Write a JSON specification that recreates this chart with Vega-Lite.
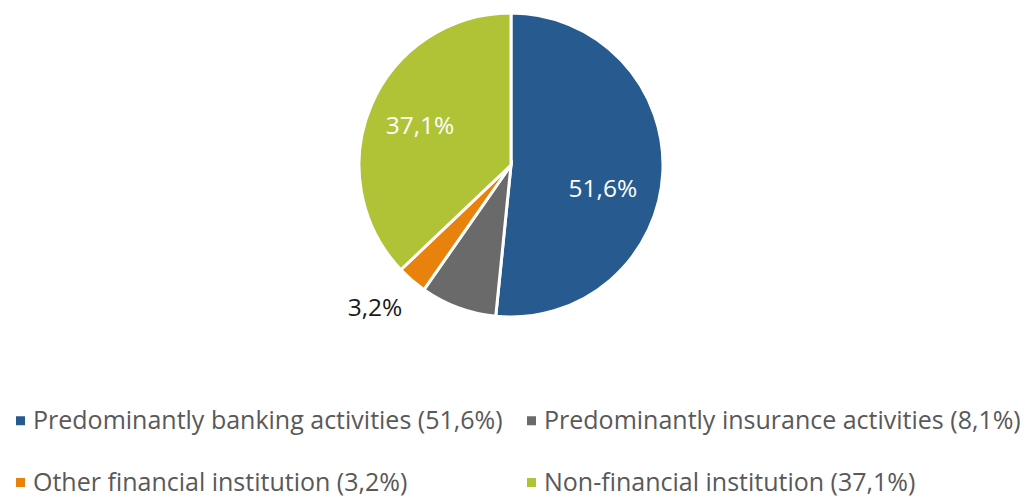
{
  "$schema": "https://vega.github.io/schema/vega-lite/v6.json",
  "width": 1022,
  "height": 330,
  "autosize": "none",
  "padding": {"left": 0, "top": 0, "right": 8, "bottom": 166},
  "background": "white",
  "config": {"view": {"stroke": null}},
  "data": {
    "values": [
      {"cat": "Predominantly banking activities (51,6%)", "key": "bank", "value": 51.6, "pct": "51,6%", "idx": 1},
      {"cat": "Predominantly insurance activities (8,1%)", "key": "ins", "value": 8.1, "pct": "8,1%", "idx": 2},
      {"cat": "Other financial institution (3,2%)", "key": "oth", "value": 3.2, "pct": "3,2%", "idx": 3},
      {"cat": "Non-financial institution (37,1%)", "key": "non", "value": 37.1, "pct": "37,1%", "idx": 4}
    ]
  },
  "encoding": {
    "theta": {"field": "value", "type": "quantitative", "stack": true},
    "order": {"field": "idx", "type": "quantitative"},
    "color": {
      "field": "cat",
      "type": "nominal",
      "sort": null,
      "scale": {
        "domain": ["Predominantly banking activities (51,6%)", "Other financial institution (3,2%)", "Predominantly insurance activities (8,1%)", "Non-financial institution (37,1%)"],
        "range": ["#275B8F", "#E8820C", "#6A6A6A", "#B0C336"]
      },
      "legend": {
        "title": null,
        "orient": "none",
        "legendX": 8,
        "legendY": 408,
        "columns": 2,
        "padding": 0,
        "symbolType": "square",
        "symbolSize": 81,
        "symbolStrokeWidth": 0,
        "labelOffset": 0,
        "labelFont": "Open Sans",
        "labelFontSize": 25,
        "labelColor": "#595959",
        "labelLimit": 700,
        "columnPadding": 16,
        "rowPadding": 36
      }
    }
  },
  "layer": [
    {"mark": {"type": "arc", "outerRadius": 152, "stroke": "white", "strokeWidth": 3}},
    {
      "mark": {"type": "text", "radius": 89, "dx": 3, "dy": 21, "fontSize": 24.5, "font": "Open Sans"},
      "encoding": {
        "color": {"value": "white"},
        "text": {"condition": {"test": "datum.key === 'bank'", "field": "pct"}, "value": ""}
      }
    },
    {
      "mark": {"type": "text", "radius": 99, "dy": 1, "fontSize": 24.5, "font": "Open Sans"},
      "encoding": {
        "color": {"value": "white"},
        "text": {"condition": {"test": "datum.key === 'non'", "field": "pct"}, "value": ""}
      }
    },
    {
      "mark": {"type": "text", "radius": 204, "dx": -3, "dy": -11, "fontSize": 24.5, "font": "Open Sans"},
      "encoding": {
        "color": {"value": "#1a1a1a"},
        "text": {"condition": {"test": "datum.key === 'oth'", "field": "pct"}, "value": ""}
      }
    }
  ]
}
